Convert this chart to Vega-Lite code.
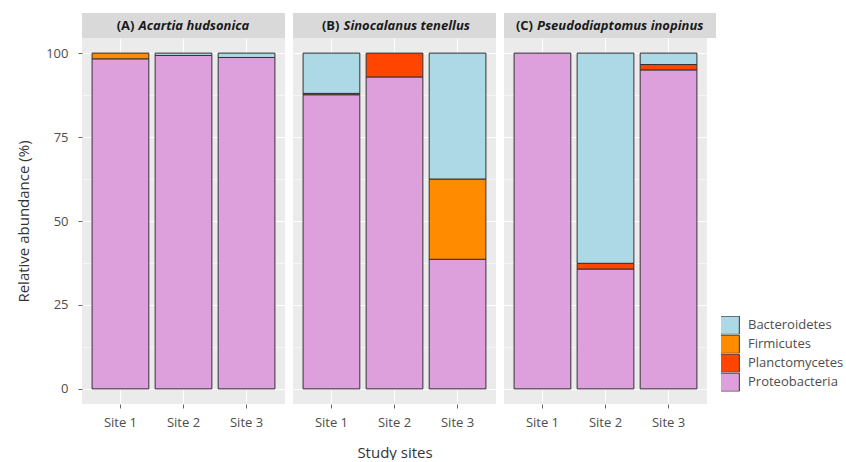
{
  "$schema": "https://vega.github.io/schema/vega-lite/v6.json",
  "padding": {"left": 16, "top": 13, "right": 0, "bottom": 0},
  "datasets": {
    "abundance": [
      {"panel": "A", "site": "Site 1", "phylum": "Proteobacteria", "value": 98.3},
      {"panel": "A", "site": "Site 1", "phylum": "Firmicutes", "value": 1.7},
      {"panel": "A", "site": "Site 2", "phylum": "Proteobacteria", "value": 99.3},
      {"panel": "A", "site": "Site 2", "phylum": "Bacteroidetes", "value": 0.7},
      {"panel": "A", "site": "Site 3", "phylum": "Proteobacteria", "value": 98.7},
      {"panel": "A", "site": "Site 3", "phylum": "Bacteroidetes", "value": 1.3},
      {"panel": "B", "site": "Site 1", "phylum": "Proteobacteria", "value": 87.6},
      {"panel": "B", "site": "Site 1", "phylum": "Planctomycetes", "value": 0.4},
      {"panel": "B", "site": "Site 1", "phylum": "Bacteroidetes", "value": 12.0},
      {"panel": "B", "site": "Site 2", "phylum": "Proteobacteria", "value": 92.9},
      {"panel": "B", "site": "Site 2", "phylum": "Planctomycetes", "value": 7.1},
      {"panel": "B", "site": "Site 3", "phylum": "Proteobacteria", "value": 38.6},
      {"panel": "B", "site": "Site 3", "phylum": "Firmicutes", "value": 23.9},
      {"panel": "B", "site": "Site 3", "phylum": "Bacteroidetes", "value": 37.5},
      {"panel": "C", "site": "Site 1", "phylum": "Proteobacteria", "value": 100.0},
      {"panel": "C", "site": "Site 2", "phylum": "Proteobacteria", "value": 35.7},
      {"panel": "C", "site": "Site 2", "phylum": "Planctomycetes", "value": 1.7},
      {"panel": "C", "site": "Site 2", "phylum": "Bacteroidetes", "value": 62.6},
      {"panel": "C", "site": "Site 3", "phylum": "Proteobacteria", "value": 95.0},
      {"panel": "C", "site": "Site 3", "phylum": "Planctomycetes", "value": 1.6},
      {"panel": "C", "site": "Site 3", "phylum": "Bacteroidetes", "value": 3.4}
    ],
    "strips": [
      {"panel": "A", "letter": "(A)", "species": "Acartia hudsonica"},
      {"panel": "B", "letter": "(B)", "species": "Sinocalanus tenellus"},
      {"panel": "C", "letter": "(C)", "species": "Pseudodiaptomus inopinus"}
    ]
  },
  "config": {
    "font": "Open Sans",
    "view": {"stroke": null},
    "axis": {"labelFont": "Open Sans", "titleFont": "Open Sans"},
    "legend": {"labelFont": "Open Sans"}
  },
  "spacing": 8,
  "resolve": {"scale": {"y": "shared", "color": "shared"}},
  "hconcat": [
    {
      "spacing": 0,
      "vconcat": [
        {
          "width": 203,
          "height": 25,
          "view": {"fill": "#D9D9D9", "stroke": null},
          "data": {"name": "strips"},
          "transform": [{"filter": "datum.panel === 'A'"}],
          "layer": [
            {"mark": {"type": "text", "align": "right", "baseline": "middle", "fontSize": 13, "fontWeight": "bold", "color": "#1a1a1a", "dx": -49}, "encoding": {"text": {"field": "letter"}}},
            {"mark": {"type": "text", "align": "left", "baseline": "middle", "fontSize": 13, "fontWeight": "bold", "fontStyle": "italic", "color": "#1a1a1a", "dx": -45}, "encoding": {"text": {"field": "species"}}}
          ]
        },
        {
          "width": 203,
          "height": 366,
          "view": {"fill": "#EBEBEB", "stroke": null},
          "data": {"name": "abundance"},
          "transform": [{"filter": "datum.panel === 'A'"}],
          "mark": {"type": "bar", "stroke": "#333333", "strokeWidth": 1},
          "encoding": {
            "x": {
              "field": "site", "type": "nominal",
              "scale": {"paddingInner": 0.1, "paddingOuter": 0.16},
              "axis": {"title": null, "labelAngle": 0, "labelFontSize": 13, "labelColor": "#4d4d4d", "labelPadding": 8, "tickSize": 4, "tickColor": "#666666", "domain": false, "grid": true, "gridColor": "white", "gridWidth": 1.1, "bandPosition": 0.5}
            },
            "y": {
              "field": "value", "type": "quantitative", "stack": "zero",
              "scale": {"domain": [-4.5, 104.5], "nice": false, "zero": false},
              "axis": {
                "title": "Relative abundance (%)",
                "values": [0, 12.5, 25, 37.5, 50, 62.5, 75, 87.5, 100],
                "labelExpr": "datum.value % 25 === 0 ? datum.label : ''",
                "labelOverlap": false,
                "labelFontSize": 13, "labelColor": "#4d4d4d", "labelPadding": 10,
                "tickSize": 4,
                "tickColor": {"condition": {"test": "datum.value % 25 === 0", "value": "#666666"}, "value": "transparent"},
                "domain": false, "grid": true, "gridColor": "white",
                "gridWidth": {"condition": {"test": "datum.value % 25 === 0", "value": 1.1}, "value": 0.55},
                "titleFontSize": 15, "titleFontWeight": "normal", "titleColor": "#333333", "titlePadding": 14
              }
            },
            "color": {
              "field": "phylum", "type": "nominal",
              "scale": {"domain": ["Bacteroidetes", "Firmicutes", "Planctomycetes", "Proteobacteria"], "range": ["#ADD8E6", "#FF8C00", "#FF4500", "#DDA0DD"]},
              "legend": {"title": null, "orient": "none", "legendX": 639, "legendY": 303, "symbolType": "M-1.55,-1.3H1.55V1.3H-1.55Z", "symbolSize": 196, "symbolStrokeColor": "#333333", "symbolStrokeWidth": 1, "symbolOpacity": 1, "labelFontSize": 13, "labelColor": "#4d4d4d", "rowPadding": 0, "clipHeight": 18.5, "labelOffset": 12}
            },
            "order": {"field": "phylum", "sort": "descending"}
          }
        }
      ]
    },
    {
      "spacing": 0,
      "vconcat": [
        {
          "width": 203,
          "height": 25,
          "view": {"fill": "#D9D9D9", "stroke": null},
          "data": {"name": "strips"},
          "transform": [{"filter": "datum.panel === 'B'"}],
          "layer": [
            {"mark": {"type": "text", "align": "right", "baseline": "middle", "fontSize": 13, "fontWeight": "bold", "color": "#1a1a1a", "dx": -55}, "encoding": {"text": {"field": "letter"}}},
            {"mark": {"type": "text", "align": "left", "baseline": "middle", "fontSize": 13, "fontWeight": "bold", "fontStyle": "italic", "color": "#1a1a1a", "dx": -51}, "encoding": {"text": {"field": "species"}}}
          ]
        },
        {
          "width": 203,
          "height": 366,
          "view": {"fill": "#EBEBEB", "stroke": null},
          "data": {"name": "abundance"},
          "transform": [{"filter": "datum.panel === 'B'"}],
          "mark": {"type": "bar", "stroke": "#333333", "strokeWidth": 1},
          "encoding": {
            "x": {
              "field": "site", "type": "nominal",
              "scale": {"paddingInner": 0.1, "paddingOuter": 0.16},
              "axis": {"title": "Study sites", "titleFontSize": 15, "titleFontWeight": "normal", "titleColor": "#333333", "titlePadding": 16, "labelAngle": 0, "labelFontSize": 13, "labelColor": "#4d4d4d", "labelPadding": 8, "tickSize": 4, "tickColor": "#666666", "domain": false, "grid": true, "gridColor": "white", "gridWidth": 1.1, "bandPosition": 0.5}
            },
            "y": {
              "field": "value", "type": "quantitative", "stack": "zero",
              "scale": {"domain": [-4.5, 104.5], "nice": false, "zero": false},
              "axis": {
                "title": null, "labels": false, "ticks": false, "domain": false,
                "values": [0, 12.5, 25, 37.5, 50, 62.5, 75, 87.5, 100],
                "grid": true, "gridColor": "white",
                "gridWidth": {"condition": {"test": "datum.value % 25 === 0", "value": 1.1}, "value": 0.55}
              }
            },
            "color": {
              "field": "phylum", "type": "nominal",
              "scale": {"domain": ["Bacteroidetes", "Firmicutes", "Planctomycetes", "Proteobacteria"], "range": ["#ADD8E6", "#FF8C00", "#FF4500", "#DDA0DD"]},
              "legend": {"title": null, "orient": "none", "legendX": 639, "legendY": 303, "symbolType": "M-1.55,-1.3H1.55V1.3H-1.55Z", "symbolSize": 196, "symbolStrokeColor": "#333333", "symbolStrokeWidth": 1, "symbolOpacity": 1, "labelFontSize": 13, "labelColor": "#4d4d4d", "rowPadding": 0, "clipHeight": 18.5, "labelOffset": 12}
            },
            "order": {"field": "phylum", "sort": "descending"}
          }
        }
      ]
    },
    {
      "spacing": 0,
      "vconcat": [
        {
          "width": 212,
          "height": 25,
          "view": {"fill": "#D9D9D9", "stroke": null},
          "data": {"name": "strips"},
          "transform": [{"filter": "datum.panel === 'C'"}],
          "layer": [
            {"mark": {"type": "text", "align": "right", "baseline": "middle", "fontSize": 13, "fontWeight": "bold", "color": "#1a1a1a", "dx": -77}, "encoding": {"text": {"field": "letter"}}},
            {"mark": {"type": "text", "align": "left", "baseline": "middle", "fontSize": 13, "fontWeight": "bold", "fontStyle": "italic", "color": "#1a1a1a", "dx": -73}, "encoding": {"text": {"field": "species"}}}
          ]
        },
        {
          "width": 203,
          "height": 366,
          "view": {"fill": "#EBEBEB", "stroke": null},
          "data": {"name": "abundance"},
          "transform": [{"filter": "datum.panel === 'C'"}],
          "mark": {"type": "bar", "stroke": "#333333", "strokeWidth": 1},
          "encoding": {
            "x": {
              "field": "site", "type": "nominal",
              "scale": {"paddingInner": 0.1, "paddingOuter": 0.16},
              "axis": {"title": null, "labelAngle": 0, "labelFontSize": 13, "labelColor": "#4d4d4d", "labelPadding": 8, "tickSize": 4, "tickColor": "#666666", "domain": false, "grid": true, "gridColor": "white", "gridWidth": 1.1, "bandPosition": 0.5}
            },
            "y": {
              "field": "value", "type": "quantitative", "stack": "zero",
              "scale": {"domain": [-4.5, 104.5], "nice": false, "zero": false},
              "axis": {
                "title": null, "labels": false, "ticks": false, "domain": false,
                "values": [0, 12.5, 25, 37.5, 50, 62.5, 75, 87.5, 100],
                "grid": true, "gridColor": "white",
                "gridWidth": {"condition": {"test": "datum.value % 25 === 0", "value": 1.1}, "value": 0.55}
              }
            },
            "color": {
              "field": "phylum", "type": "nominal",
              "scale": {"domain": ["Bacteroidetes", "Firmicutes", "Planctomycetes", "Proteobacteria"], "range": ["#ADD8E6", "#FF8C00", "#FF4500", "#DDA0DD"]},
              "legend": {"title": null, "orient": "none", "legendX": 639, "legendY": 303, "symbolType": "M-1.55,-1.3H1.55V1.3H-1.55Z", "symbolSize": 196, "symbolStrokeColor": "#333333", "symbolStrokeWidth": 1, "symbolOpacity": 1, "labelFontSize": 13, "labelColor": "#4d4d4d", "rowPadding": 0, "clipHeight": 18.5, "labelOffset": 12}
            },
            "order": {"field": "phylum", "sort": "descending"}
          }
        }
      ]
    }
  ]
}
